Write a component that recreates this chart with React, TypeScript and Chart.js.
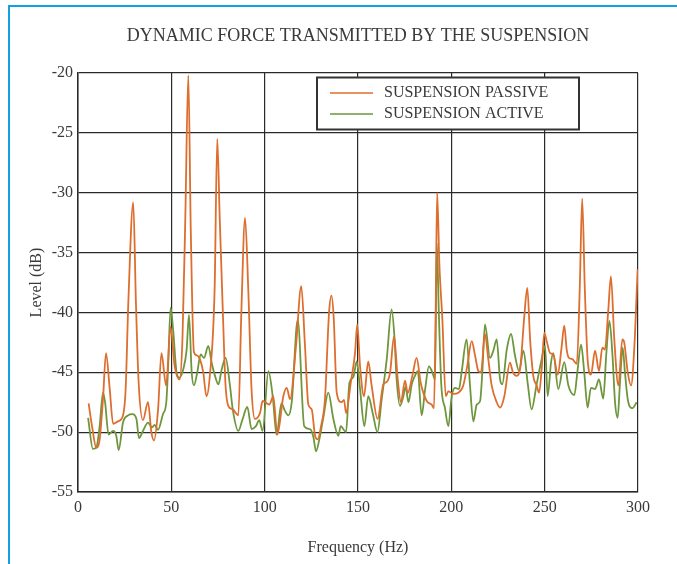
import React, { useEffect, useRef } from "react";
import { Chart, registerables } from "chart.js";

Chart.register(...registerables);

const chartTitle = "DYNAMIC FORCE TRANSMITTED BY THE SUSPENSION";
const xTitle = "Frequency (Hz)";
const yTitle = "Level (dB)";
const seriesLabels = ["SUSPENSION PASSIVE", "SUSPENSION ACTIVE"];
const seriesColors = ["#de6e2d", "#6e963c"];

const passiveHz = [
  5.7, 7.5, 9.8, 11.6, 13.4, 15.0, 17.0, 18.8, 21.4, 24.1, 25.5, 27.0, 29.6, 31.0, 32.5, 34.8,
  37.5, 39.3, 40.7, 42.9, 44.7, 47.2, 49.6, 51.8, 54.5, 56.0, 57.5, 59.1, 60.4, 62.1, 63.9, 65.3,
  67.1, 68.8, 70.5, 73.2, 74.6, 75.9, 77.6, 79.0, 80.5, 82.9, 85.9, 87.5, 89.5, 91.2, 93.0, 94.8,
  97.5, 98.9, 102.5, 104.6, 106.8, 110.0, 111.8, 113.6, 116.8, 119.6, 121.6, 123.4, 125.2, 127.0,
  128.4, 130.2, 132.3, 134.5, 135.8, 137.0, 138.6, 141.2, 142.5, 143.6, 146.1, 148.4, 149.6, 151.1,
  153.2, 155.5, 157.3, 160.5, 163.6, 165.4, 167.2, 169.3, 171.3, 173.0, 175.2, 176.6, 179.1, 181.4,
  183.6, 186.8, 189.5, 190.7, 191.6, 192.4, 193.6, 195.2, 197.0, 198.4, 201.0, 203.8, 206.4, 208.5,
  210.9, 212.7, 214.5, 215.9, 218.0, 219.8, 221.6, 224.3, 226.1, 228.4, 231.4, 233.0, 235.0, 237.0,
  239.0, 240.7, 242.2, 243.9, 245.7, 247.0, 248.5, 249.8, 251.1, 252.9, 254.6, 257.0, 259.0, 260.5,
  261.8, 263.0, 264.8, 267.2, 268.8, 270.1, 271.5, 273.0, 274.8, 277.0, 279.1, 280.9, 282.3, 284.0,
  285.5, 287.3, 289.5, 291.6, 292.6, 294.5, 296.3, 298.0, 299.8,
];
const passiveDb = [
  -47.6, -49.5, -51.3, -50.6, -47.2, -43.4, -46.4, -49.3, -49.1, -48.6, -46.5, -39.0, -30.8, -39.0, -45.9, -49.0,
  -47.5, -50.0, -50.7, -48.1, -43.4, -46.1, -41.2, -44.5, -45.6, -42.0, -32.0, -20.2, -33.0, -43.3, -43.6, -43.9,
  -45.0, -47.0, -45.5, -38.0, -25.5, -32.0, -40.0, -46.0, -47.8, -48.1, -48.6, -40.0, -32.1, -38.0, -46.5, -48.9,
  -48.4, -47.4, -47.7, -47.0, -50.2, -47.0, -46.3, -47.25, -42.8, -37.8, -42.8, -47.7, -48.1, -50.3,
  -50.6, -49.5, -47.25, -40.0, -38.6, -40.5, -46.7, -47.5, -47.3, -48.4, -45.9, -43.4, -41.0, -44.5,
  -47.0, -44.1, -46.1, -48.9, -46.0, -45.8, -45.0, -42.0, -45.6, -47.5, -45.7, -46.75, -45.3, -43.8,
  -45.9, -47.4, -47.7, -48.0, -40.0, -30.0, -36.0, -40.6, -47.0, -46.6, -46.8, -46.7, -46.1, -44.5,
  -42.4, -43.6, -44.9, -45.0, -41.8, -43.9, -46.1, -47.5, -47.95, -47.0, -44.2, -45.0, -45.3, -44.5,
  -40.5, -37.95, -42.25, -45.3, -46.1, -46.7, -44.5, -41.7, -42.4, -43.4, -43.5, -45.2, -43.0, -41.1,
  -43.1, -43.8, -43.9, -44.3, -38.0, -30.5, -38.0, -43.9, -45.2, -43.2, -44.9, -42.95, -43.1, -40.0,
  -37.0, -42.25, -46.1, -42.25, -42.5, -45.0, -46.1, -43.0, -36.4,
];

const activeHz = [
  5.4, 8.0, 9.8, 11.6, 13.4, 14.5, 16.4, 18.8, 20.5, 21.8, 24.1, 26.8, 29.1, 31.3, 32.7, 34.8,
  37.5, 39.6, 41.0, 42.9, 45.5, 47.3, 48.3, 49.6, 51.0, 52.8, 54.3, 56.4, 58.2, 59.45, 60.9, 62.1,
  63.9, 65.7, 67.5, 69.8, 71.6, 73.4, 75.2, 77.0, 79.1, 81.4, 82.9, 85.9, 88.0, 90.7, 93.0, 95.3,
  97.1, 98.9, 102.0, 104.3, 106.4, 109.0, 110.8, 112.7, 114.5, 117.7, 121.2, 124.3, 126.1, 127.5,
  129.3, 131.4, 134.1, 136.8, 139.5, 140.7, 143.6, 145.4, 147.5, 149.3, 151.1, 153.4, 155.5, 158.0,
  160.4, 162.7, 165.4, 168.0, 169.5, 170.7, 172.5, 174.3, 175.5, 177.0, 178.8, 180.5, 182.0, 184.1,
  185.9, 188.0, 189.8, 191.3, 192.2, 193.3, 194.6, 196.6, 198.4, 200.2, 202.0, 204.1, 205.5, 208.2,
  210.0, 211.8, 213.6, 215.4, 216.6, 218.0, 220.7, 222.5, 224.3, 226.1, 227.3, 229.7, 232.0, 234.1,
  236.3, 238.6, 240.9, 243.0, 245.7, 248.0, 250.2, 251.6, 253.4, 254.6, 257.3, 260.5, 262.7, 265.9,
  267.5, 269.5, 271.2, 273.0, 274.8, 277.0, 279.1, 281.4, 283.0, 284.7, 286.3, 287.7, 289.1, 290.3,
  291.8, 293.0, 294.5, 297.0, 299.3,
];
const activeDb = [
  -48.8, -51.4, -51.3, -49.5, -46.7, -47.5, -50.2, -49.9, -50.3, -51.5, -49.2, -48.6, -48.5, -48.9, -50.5, -49.9,
  -49.2, -49.6, -49.4, -49.8, -48.5, -47.5, -44.5, -39.6, -41.5, -45.0, -45.45, -44.75, -43.1, -40.2, -45.0, -46.1,
  -45.0, -43.5, -43.8, -42.8, -44.2, -45.3, -46.0, -44.75, -43.8, -46.1, -48.1, -49.9, -49.0, -47.9, -49.75, -49.5,
  -49.0, -49.9, -44.9, -47.0, -50.2, -47.6, -48.2, -48.6, -47.5, -40.6, -49.5, -49.75, -50.4, -51.6,
  -50.6, -48.8, -46.7, -48.9, -50.3, -49.5, -50.0, -45.9, -45.4, -44.1, -46.4, -49.5, -47.0, -48.5,
  -50.0, -47.25, -43.9, -39.75, -42.0, -45.6, -47.8, -47.0, -46.2, -47.5, -46.0, -45.3, -44.9, -48.6,
  -46.5, -44.5, -45.0, -45.6, -34.2, -40.0, -46.0, -48.0, -49.5, -47.0, -46.3, -46.4, -45.0, -42.25,
  -46.1, -49.1, -47.7, -47.4, -45.0, -41.0, -43.8, -43.2, -42.25, -45.6, -46.0, -43.1, -41.8, -43.6,
  -44.9, -43.2, -45.9, -48.1, -46.0, -44.2, -42.8, -47.0, -44.2, -43.4, -46.4, -44.15, -46.1, -46.9,
  -45.0, -42.7, -45.0, -47.95, -46.3, -46.4, -45.6, -47.2, -43.5, -40.7, -43.5, -47.5, -48.8, -46.0,
  -42.95, -45.0, -47.25, -48.0, -47.5,
];

const xMin = 0;
const xMax = 300;
const xStep = 50;
const yMin = -55;
const yMax = -20;
const yStep = 5;

const FONT = "'Liberation Serif', serif";
const TEXT_COLOR = "#3a3a3a";
const GRID_COLOR = "#2a2a2a";

const titlePlugin = {
  id: "areaTitle",
  afterDraw(chart: any) {
    const { ctx, chartArea } = chart;
    ctx.save();
    ctx.fillStyle = TEXT_COLOR;
    ctx.font = `18px ${FONT}`;
    ctx.textAlign = "center";
    ctx.textBaseline = "middle";
    ctx.fillText(chartTitle, (chartArea.left + chartArea.right) / 2, 36);
    ctx.restore();
  },
};

const legendPlugin = {
  id: "boxLegend",
  afterDatasetsDraw(chart: any) {
    const { ctx, chartArea } = chart;
    const bx = chartArea.left + 239;
    const by = chartArea.top + 4.5;
    const bw = 262;
    const bh = 52;
    ctx.save();
    ctx.fillStyle = "#ffffff";
    ctx.fillRect(bx, by, bw, bh);
    ctx.strokeStyle = "#333333";
    ctx.lineWidth = 2;
    ctx.strokeRect(bx, by, bw, bh);
    chart.data.datasets.forEach((ds: any, i: number) => {
      const y = by + 15.5 + i * 21;
      ctx.strokeStyle = ds.borderColor;
      ctx.lineWidth = 1.6;
      ctx.beginPath();
      ctx.moveTo(bx + 13, y);
      ctx.lineTo(bx + 56, y);
      ctx.stroke();
      ctx.fillStyle = TEXT_COLOR;
      ctx.font = `16px ${FONT}`;
      ctx.textBaseline = "middle";
      ctx.textAlign = "left";
      ctx.fillText(ds.label, bx + 67, y);
    });
    ctx.restore();
  },
};

export default function App() {
  const canvasRef = useRef<HTMLCanvasElement | null>(null);

  useEffect(() => {
    const canvas = canvasRef.current;
    if (!canvas) return;
    const passive = passiveHz.map((x, i) => ({ x, y: passiveDb[i] }));
    const active = activeHz.map((x, i) => ({ x, y: activeDb[i] }));
    const chart = new Chart(canvas, {
      type: "line",
      data: {
        datasets: [
          {
            label: seriesLabels[0],
            data: passive,
            borderColor: seriesColors[0],
            backgroundColor: seriesColors[0],
            borderWidth: 1.8,
            pointRadius: 0,
            cubicInterpolationMode: "monotone",
          },
          {
            label: seriesLabels[1],
            data: active,
            borderColor: seriesColors[1],
            backgroundColor: seriesColors[1],
            borderWidth: 1.8,
            pointRadius: 0,
            cubicInterpolationMode: "monotone",
          },
        ],
      },
      options: {
        responsive: false,
        animation: false,
        devicePixelRatio: 1,
        layout: { padding: { left: 0, right: 39, top: 73, bottom: 0 } },
        plugins: {
          legend: { display: false },
          tooltip: { enabled: false },
          title: { display: false },
        },
        scales: {
          x: {
            type: "linear",
            min: xMin,
            max: xMax,
            ticks: {
              stepSize: xStep,
              color: TEXT_COLOR,
              font: { family: FONT, size: 16 },
              padding: 6,
            },
            grid: { color: GRID_COLOR, lineWidth: 1.2, drawTicks: false },
            border: { color: GRID_COLOR, width: 1.5 },
            title: {
              display: true,
              text: xTitle,
              color: TEXT_COLOR,
              font: { family: FONT, size: 16, lineHeight: 1.2 },
              padding: { top: 0, bottom: 6.6 },
            },
            afterFit(scale: any) {
              scale.height = 72;
            },
          },
          y: {
            min: yMin,
            max: yMax,
            ticks: {
              stepSize: yStep,
              color: TEXT_COLOR,
              font: { family: FONT, size: 16 },
              padding: 5,
            },
            grid: { color: GRID_COLOR, lineWidth: 1.2, drawTicks: false },
            border: { color: GRID_COLOR, width: 1.5 },
            title: {
              display: true,
              text: yTitle,
              color: TEXT_COLOR,
              font: { family: FONT, size: 16, lineHeight: 1.2 },
              padding: { top: 27.4, bottom: 0 },
            },
            afterFit(scale: any) {
              scale.width = 78;
            },
          },
        },
      },
      plugins: [legendPlugin, titlePlugin],
    });
    return () => chart.destroy();
  }, []);

  return (
    <div style={{ position: "absolute", left: 0, top: 0, width: 677, height: 564, background: "#ffffff", overflow: "hidden" }}>
      <div
        style={{
          position: "absolute",
          left: 8,
          top: 5,
          width: 700,
          height: 600,
          borderTop: "2px solid #12a0e2",
          borderLeft: "2px solid #12a0e2",
        }}
      />
      <canvas ref={canvasRef} width={677} height={564} style={{ position: "absolute", left: 0, top: 0, display: "block" }} />
    </div>
  );
}
